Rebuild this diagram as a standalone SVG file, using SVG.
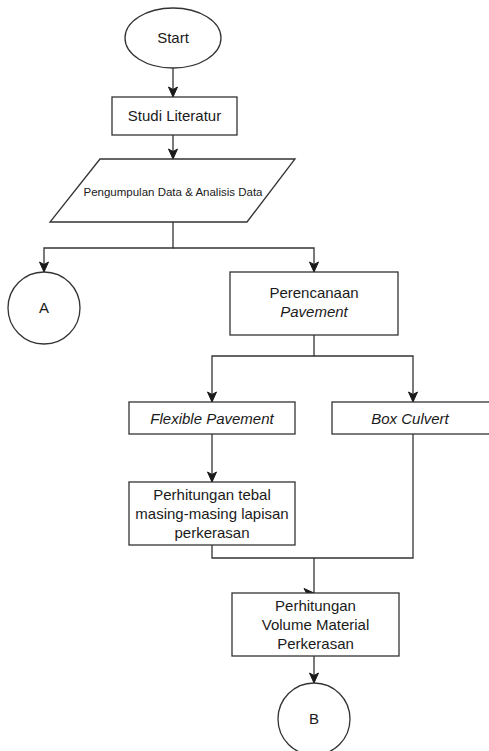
<svg xmlns="http://www.w3.org/2000/svg" width="489" height="751" viewBox="0 0 489 751">
<style>
.shape{fill:#ffffff;stroke:#333333;stroke-width:1.3}
.edge{fill:none;stroke:#333333;stroke-width:1.3}
.t{font-family:"Liberation Sans",Arial,sans-serif;font-size:15px;fill:#1a1a1a;text-anchor:middle}
.i{font-style:italic}
.s{font-size:11.5px}
</style>
<defs>
<marker id="arr" markerUnits="userSpaceOnUse" markerWidth="12" markerHeight="12" viewBox="0 0 12 12" refX="11" refY="6" orient="auto">
<path d="M1,1.5 L11,6 L1,10.5 L3.5,6 Z" fill="#1a1a1a" stroke="#1a1a1a" stroke-width="1"/>
</marker>
</defs>
<rect width="489" height="751" fill="#ffffff"/>
<g id="connectors">
<path class="edge" d="M173,68 V97" marker-end="url(#arr)"/>
<path class="edge" d="M173,135 V159" marker-end="url(#arr)"/>
<path class="edge" d="M173,222 V248 H44 V272" marker-end="url(#arr)"/>
<path class="edge" d="M173,248 H314 V272" marker-end="url(#arr)"/>
<path class="edge" d="M314,335 V356 H212 V402" marker-end="url(#arr)"/>
<path class="edge" d="M314,356 H413 V402" marker-end="url(#arr)"/>
<path class="edge" d="M212,434 V482" marker-end="url(#arr)"/>
<path class="edge" d="M212,545 V558 H413 V434"/>
<path class="edge" d="M314,558 V593"/>
<path d="M304,588.5 L314,593 L304,597.5 L306.5,593 Z" fill="#1a1a1a" stroke="#1a1a1a" stroke-width="1"/>
<path class="edge" d="M314,656 V683" marker-end="url(#arr)"/>
</g>
<g id="start">
<ellipse class="shape" cx="173" cy="38" rx="48" ry="30"/>
<text class="t" x="173" y="43">Start</text>
</g>
<g id="studi">
<rect class="shape" x="112" y="97" width="125" height="38"/>
<text class="t" x="174.5" y="121">Studi Literatur</text>
</g>
<g id="data">
<polygon class="shape" points="100,159 295,159 247,222 50,222"/>
<text class="t s" x="173" y="196">Pengumpulan Data &amp; Analisis Data</text>
</g>
<g id="a">
<circle class="shape" cx="44" cy="308" r="36"/>
<text class="t" x="44" y="313">A</text>
</g>
<g id="perencanaan">
<rect class="shape" x="230" y="272" width="168" height="63"/>
<text class="t" x="314" y="298">Perencanaan</text>
<text class="t i" x="314" y="317">Pavement</text>
</g>
<g id="flexible">
<rect class="shape" x="129" y="402" width="166" height="32"/>
<text class="t i" x="212" y="424">Flexible Pavement</text>
</g>
<g id="box">
<rect class="shape" x="332" y="402" width="162" height="32"/>
<text class="t i" x="410" y="424">Box Culvert</text>
</g>
<g id="tebal">
<rect class="shape" x="129" y="482" width="166" height="63"/>
<text class="t" x="212" y="500">Perhitungan tebal</text>
<text class="t" x="212" y="519">masing-masing lapisan</text>
<text class="t" x="212" y="538">perkerasan</text>
</g>
<g id="volume">
<rect class="shape" x="232" y="593" width="167" height="63"/>
<text class="t" x="315.5" y="611">Perhitungan</text>
<text class="t" x="315.5" y="630">Volume Material</text>
<text class="t" x="315.5" y="649">Perkerasan</text>
</g>
<g id="b">
<circle class="shape" cx="314" cy="719" r="36"/>
<text class="t" x="314" y="724">B</text>
</g>
</svg>
